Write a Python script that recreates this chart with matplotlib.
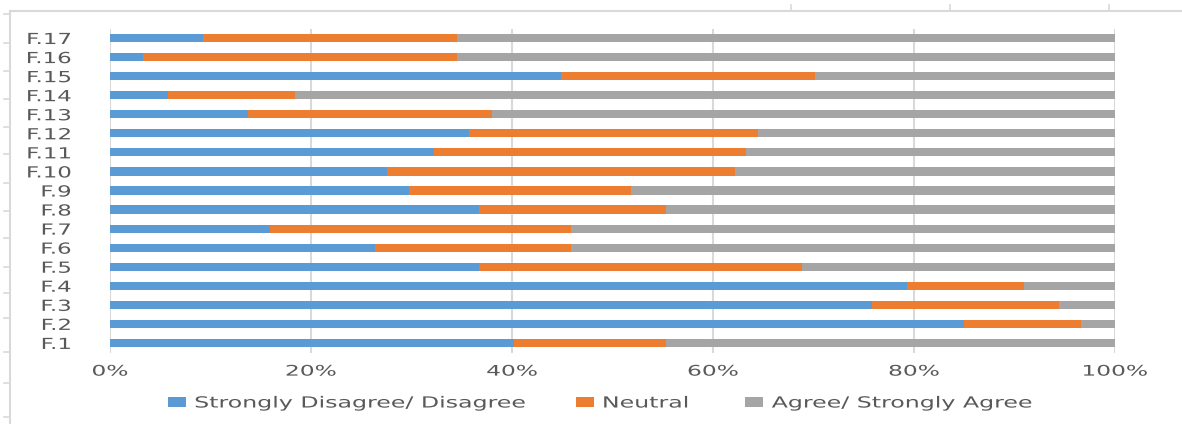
import matplotlib
matplotlib.use("Agg")
import matplotlib.pyplot as plt
import numpy as np
from matplotlib.lines import Line2D
from matplotlib.patheffects import AbstractPathEffect
from matplotlib.transforms import Affine2D

# survey items, bottom to top
items = ['F.1', 'F.2', 'F.3', 'F.4', 'F.5', 'F.6', 'F.7', 'F.8', 'F.9',
         'F.10', 'F.11', 'F.12', 'F.13', 'F.14', 'F.15', 'F.16', 'F.17']
# percentage of answers per item
disagree = [40.2, 85.0, 75.8, 79.3, 36.7, 26.4, 15.9, 36.7, 29.8,
            27.6, 32.2, 35.7, 13.7, 5.8, 44.9, 3.3, 9.3]
neutral = [15.1, 11.6, 18.6, 11.6, 32.2, 19.5, 30.0, 18.6, 22.0,
           34.6, 31.1, 28.8, 24.3, 12.6, 25.2, 31.2, 25.2]
agree = [44.7, 3.4, 5.6, 9.1, 31.1, 54.1, 54.1, 44.7, 48.2,
         37.8, 36.7, 35.5, 62.0, 81.6, 29.9, 65.5, 65.5]
series = ['Strongly Disagree/ Disagree', 'Neutral', 'Agree/ Strongly Agree']
colors = ['#5B9BD5', '#ED7D31', '#A5A5A5']
xticks = [0, 20, 40, 60, 80, 100]

TXT = '#595959'
GRID = '#D9D9D9'


class Wide(AbstractPathEffect):
    """Draw text stretched horizontally around one of its edges."""
    def __init__(self, sx, anchor):
        super().__init__()
        self.sx = sx
        self.anchor = anchor

    def draw_path(self, renderer, gc, tpath, affine, rgbFace=None):
        ext = tpath.get_extents()
        a = {'left': ext.x0, 'center': (ext.x0 + ext.x1) / 2, 'right': ext.x1}[self.anchor]
        t = Affine2D().translate(-a, 0).scale(self.sx, 1).translate(a, 0)
        renderer.draw_path(gc, tpath, t + affine, rgbFace)


fig = plt.figure(figsize=(11.82, 4.24), dpi=100)
ax = fig.add_axes([110 / 1182, 71.5 / 424, 1005 / 1182, 324 / 424])

pos = np.arange(len(items))
left = np.zeros(len(items))
bars = []
for vals, col, name in zip([disagree, neutral, agree], colors, series):
    vals = np.array(vals)
    b = ax.barh(pos, vals, left=left, height=0.43, color=col, label=name, zorder=2)
    bars.append(b)
    left = left + vals

ax.set_xlim(0, 100)
ax.set_ylim(-0.5, len(items) - 0.5)
ax.set_xticks(xticks)
ax.set_xticklabels(['%d%%' % v for v in xticks])
ax.set_yticks(pos)
ax.set_yticklabels(items)
ax.grid(axis='x', color=GRID, linewidth=1.5, zorder=0)
for s in ax.spines.values():
    s.set_visible(False)
ax.tick_params(axis='both', length=0, colors=TXT)
ax.tick_params(axis='y', pad=28, labelsize=11)
ax.tick_params(axis='x', pad=8, labelsize=10.5)
for lab in ax.get_yticklabels():
    lab.set_path_effects([Wide(1.5, 'right')])
for lab in ax.get_xticklabels():
    lab.set_path_effects([Wide(1.6, 'center')])

# one legend entry per series, spread along the bottom
legend_x = [168, 576, 745]
for b, name, lx in zip(bars, series, legend_x):
    leg = fig.legend([b], [name], loc='center left',
                     bbox_to_anchor=(lx / 1182, 1 - 403 / 424),
                     frameon=False, fontsize=11, handlelength=1.15,
                     handleheight=0.65, handletextpad=0.6, borderaxespad=0,
                     borderpad=0)
    for t in leg.get_texts():
        t.set_color(TXT)
        t.set_path_effects([Wide(1.55, 'left')])

# sheet border around the chart
fig.add_artist(Line2D([10 / 1182, 1], [1 - 11 / 424, 1 - 11 / 424], color=GRID, lw=1.5))
fig.add_artist(Line2D([10 / 1182, 10 / 1182], [0, 1 - 11 / 424], color=GRID, lw=1.5))
for yy in [14, 43, 71, 99, 127, 154, 183, 211, 238, 267, 293, 318, 352, 383, 417]:
    fig.add_artist(Line2D([4 / 1182, 10 / 1182], [1 - yy / 424] * 2, color=GRID, lw=1.2))
for xx in [791, 950, 1109]:
    fig.add_artist(Line2D([xx / 1182] * 2, [1 - 5 / 424, 1 - 11 / 424], color=GRID, lw=1.2))

fig.savefig('out.png', dpi=100)
